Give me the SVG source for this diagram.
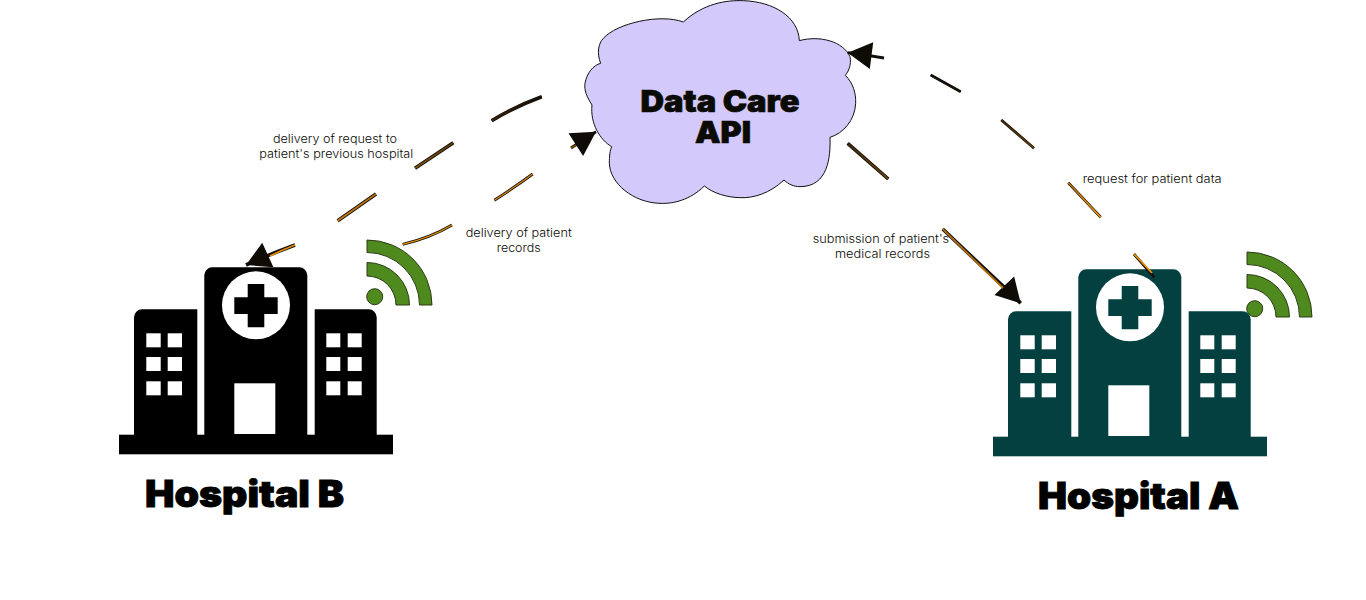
<svg xmlns="http://www.w3.org/2000/svg" width="1366" height="600" viewBox="0 0 1366 600">
<style>
text{font-family:Inter,"Liberation Sans",sans-serif;fill:#0b0b05}
.lbl{font-size:11px;font-weight:300}
.title{font-size:30px;font-weight:900;stroke:#0b0b05;stroke-width:.7}
.name{font-size:37px;font-weight:900;fill:#000;stroke:#000;stroke-width:.9}
.w{fill:#fff}
.wifi{fill:#4f8a1f;stroke:#2c3a14;stroke-width:1}
.o{fill:none;stroke:#15100a;stroke-width:3.6}
.i{fill:none;stroke-width:1.8}
.thin{stroke-width:2.8}
.ithin{stroke-width:1.3}
</style>
<defs>
<marker id="arrow" markerUnits="userSpaceOnUse" markerWidth="26" markerHeight="28" refX="24" refY="14" orient="auto" overflow="visible"><path d="M0,0.5 L24,14 L0,27.5 Z" fill="#0f0b06"/></marker>
<linearGradient id="g1" gradientUnits="userSpaceOnUse" x1="295" y1="245" x2="541" y2="97"><stop offset="0" stop-color="#e08a0e"/><stop offset=".35" stop-color="#a8680f"/><stop offset=".7" stop-color="#4a3210"/><stop offset="1" stop-color="#15100a"/></linearGradient>
<linearGradient id="g2" gradientUnits="userSpaceOnUse" x1="402" y1="244" x2="596" y2="132"><stop offset="0" stop-color="#ee940f"/><stop offset=".7" stop-color="#d08210"/><stop offset="1" stop-color="#6a4510"/></linearGradient>
<linearGradient id="g3" gradientUnits="userSpaceOnUse" x1="1154" y1="277" x2="884" y2="58"><stop offset="0" stop-color="#f0960f"/><stop offset=".25" stop-color="#e08a0e"/><stop offset=".5" stop-color="#5a3c10"/><stop offset=".75" stop-color="#15100a"/><stop offset="1" stop-color="#15100a"/></linearGradient>
<linearGradient id="g4" gradientUnits="userSpaceOnUse" x1="1003" y1="288" x2="848" y2="143"><stop offset="0" stop-color="#b87412"/><stop offset=".4" stop-color="#a56810"/><stop offset="1" stop-color="#3c2a10"/></linearGradient>
<g id="hospital">
<rect x="119" y="434.7" width="274" height="19.6"/>
<path d="M204.3,436 V275.3 a8,8 0 0 1 8,-8 H299.3 a8,8 0 0 1 8,8 V436 Z"/>
<path d="M134,436 V317.3 a8,8 0 0 1 8,-8 H197.3 V436 Z"/>
<path d="M314.7,436 V309.3 H368.7 a8,8 0 0 1 8,8 V436 Z"/>
<circle class="w" cx="256" cy="305.3" r="34"/>
<path d="M247.7,284 H264.3 V297.3 H277.7 V314 H264.3 V327.3 H247.7 V314 H234.3 V297.3 H247.7 Z"/>
<rect class="w" x="234.3" y="383.3" width="41" height="50.7"/>
<g class="w">
<rect x="146.3" y="333.3" width="14.4" height="14"/><rect x="167.7" y="333.3" width="14.3" height="14"/>
<rect x="146.3" y="357" width="14.4" height="14"/><rect x="167.7" y="357" width="14.3" height="14"/>
<rect x="146.3" y="381.3" width="14.4" height="14"/><rect x="167.7" y="381.3" width="14.3" height="14"/>
<rect x="326.3" y="333.3" width="14" height="14"/><rect x="347.7" y="333.3" width="14" height="14"/>
<rect x="326.3" y="357" width="14" height="14"/><rect x="347.7" y="357" width="14" height="14"/>
<rect x="326.3" y="381.3" width="14" height="14"/><rect x="347.7" y="381.3" width="14" height="14"/>
</g>
</g>
<g id="wifi">
<circle class="wifi" cx="374.7" cy="296.7" r="8"/>
<path class="wifi" d="M367,262.5 A42.5,42.5 0 0 1 409.5,305 H396 A29,29 0 0 0 367,276 Z"/>
<path class="wifi" d="M367,240 A65,65 0 0 1 432,305 H419.5 A52.5,52.5 0 0 0 367,252.5 Z"/>
</g>
</defs>

<g id="hospital-b">
<use href="#hospital" fill="#000"/>
<use href="#wifi"/>
<text class="name" x="145" y="507.3" textLength="199" lengthAdjust="spacingAndGlyphs">Hospital B</text>
</g>
<g id="hospital-a">
<use href="#hospital" transform="translate(874 2)" fill="#054040"/>
<use href="#wifi" transform="translate(880 12)"/>
<text class="name" x="1038" y="509.3" textLength="201" lengthAdjust="spacingAndGlyphs">Hospital A</text>
</g>
<g id="data-care-api">
<path transform="translate(570 0) scale(.33333)" fill="#d3c9fb" stroke="#111" stroke-width="3" d="M340,66 C400,10 470,0 520,2 C610,5 685,50 688,122 C750,105 820,125 840,170 C845,195 835,215 826,226 C850,250 858,280 857,310 C855,360 820,400 780,412 C782,470 775,560 690,560 C670,560 655,552 642,540 C600,580 550,595 510,593 C470,592 430,580 403,558 C360,600 310,612 270,610 C190,608 120,550 118,490 C118,470 120,450 125,440 C90,420 60,370 66,315 C50,290 42,270 45,250 C50,220 70,195 92,190 C80,160 85,130 100,115 C140,70 270,40 340,66 Z"/>
<text class="title" x="640.5" y="111.7" textLength="159" lengthAdjust="spacingAndGlyphs">Data Care</text>
<text class="title" x="695" y="143.3" textLength="56" lengthAdjust="spacingAndGlyphs">API</text>
</g>

<g id="connectors">
<g id="c-request-to-previous">
<path class="o" marker-end="url(#arrow)" d="M541.7,96.7 Q516,106 491.7,120.7 M453.3,142.7 L415,168.3 M376,194 L337.7,220.7 M295,245 Q268,255 246,265"/>
<path class="i" stroke="url(#g1)" d="M541.7,96.7 Q516,106 491.7,120.7 M453.3,142.7 L415,168.3 M376,194 L337.7,220.7 M295,245 Q282,250 270,256"/>
</g>
<g id="c-delivery-records">
<path class="o thin" marker-end="url(#arrow)" d="M402.7,244.3 Q430,238 452,225 M494.3,200.3 Q515,187 532.7,174 M571,148 Q580,142 596,131.7"/>
<path class="i ithin" stroke="url(#g2)" d="M402.7,244.3 Q430,238 452,225 M494.3,200.3 Q515,187 532.7,174 M571,148 L576,145"/>
</g>
<g id="c-request-data">
<path class="o thin" marker-end="url(#arrow)" d="M1154.3,277.3 L1134,254 M1100.7,217.3 L1068.3,182.7 M1034,148.3 L1001.3,120 M960.7,91.7 L930.7,75 M884,58 Q866,55 847.7,52.7"/>
<path class="i" stroke="url(#g3)" d="M1152,273 L1134,254 M1100.7,217.3 L1068.3,182.7 M1034,148.3 L1001.3,120 M960.7,91.7 L930.7,75"/>
</g>
<g id="c-submission">
<path class="o" marker-end="url(#arrow)" d="M847.7,143.3 L888.3,179 M942.7,229 Q990,274 1004,287 Q1012,294 1020.7,303.3"/>
<path class="i" stroke="url(#g4)" d="M847.7,143.3 L888.3,179 M942.7,229 L1003,288"/>
</g>
</g>

<g id="labels">
<text class="lbl" x="273" y="143" textLength="124" lengthAdjust="spacingAndGlyphs">delivery of request to</text>
<text class="lbl" x="259.3" y="157.7" textLength="154" lengthAdjust="spacingAndGlyphs">patient's previous hospital</text>
<text class="lbl" x="465.7" y="236.7" textLength="106" lengthAdjust="spacingAndGlyphs">delivery of patient</text>
<text class="lbl" x="496.7" y="251.7" textLength="44" lengthAdjust="spacingAndGlyphs">records</text>
<text class="lbl" x="1082.7" y="182.7" textLength="139" lengthAdjust="spacingAndGlyphs">request for patient data</text>
<text class="lbl" x="812.7" y="243.3" textLength="136.5" lengthAdjust="spacingAndGlyphs">submission of patient's</text>
<text class="lbl" x="835" y="258.3" textLength="95" lengthAdjust="spacingAndGlyphs">medical records</text>
</g>
</svg>
